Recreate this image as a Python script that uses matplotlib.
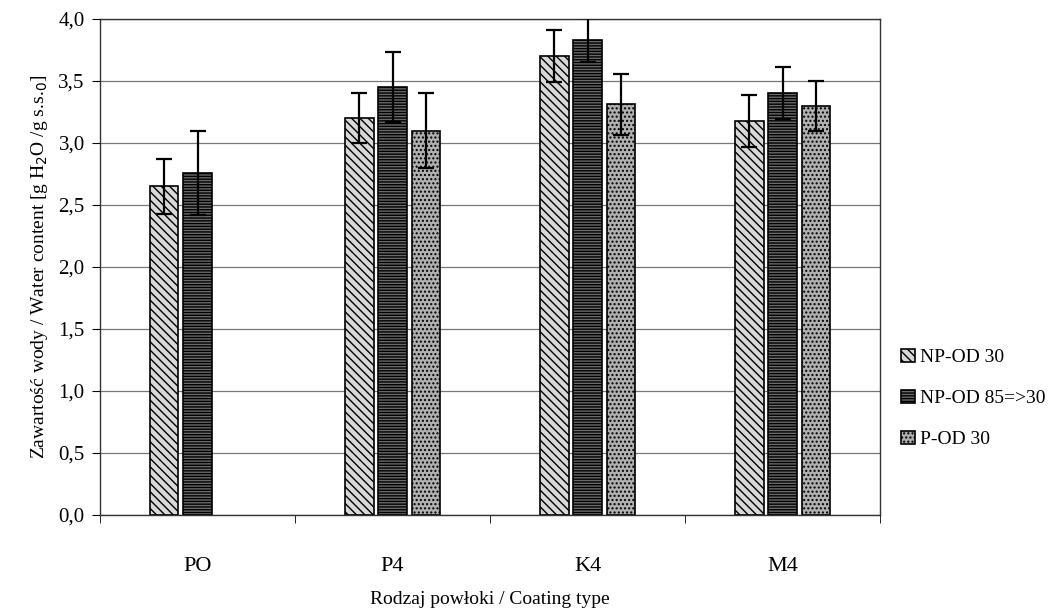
import numpy as np
import matplotlib.pyplot as plt

plt.rcParams['font.family'] = ['Liberation Serif', 'DejaVu Serif']
plt.rcParams['hatch.linewidth'] = 1.0

categories = ['PO', 'P4', 'K4', 'M4']
series = ['NP-OD 30', 'NP-OD 85=>30', 'P-OD 30']
np_od30 = [2.65, 3.20, 3.70, 3.18]
np_od30_err = [0.22, 0.20, 0.21, 0.21]
np_od85 = [2.76, 3.45, 3.83, 3.40]
np_od85_err = [0.34, 0.28, 0.18, 0.21]
p_od30 = [0.0, 3.10, 3.31, 3.30]
p_od30_err = [0.0, 0.30, 0.245, 0.20]

values = [np_od30, np_od85, p_od30]
errors = [np_od30_err, np_od85_err, p_od30_err]
faces = ['#d8d8d8', '#6a6a6a', '#b0b0b0']
hatches = ['\\\\\\\\', '------', '....']

fig = plt.figure(figsize=(10.57, 6.1), dpi=100)
ax = fig.add_axes([0.0946, 0.1557, 0.738, 0.8133])

x = np.arange(len(categories))
w = 0.145
step = 0.17
for i in range(3):
    pos = x + (i - 1) * step
    vals = np.array(values[i])
    errs = np.array(errors[i])
    mask = vals > 0
    ax.bar(pos[mask], vals[mask], w, color=faces[i], edgecolor='black',
           hatch=hatches[i], linewidth=1.2, label=series[i], zorder=2)
    ax.errorbar(pos[mask], vals[mask], yerr=errs[mask], fmt='none',
                ecolor='black', elinewidth=1.6, capsize=6, capthick=1.6, zorder=3)

ax.set_ylim(0, 4.0)
ax.set_xlim(-0.5, 3.5)
yt = np.arange(0, 4.01, 0.5)
ax.set_yticks(yt)
ax.set_yticklabels([('%.1f' % v).replace('.', ',') for v in yt], fontsize=15)
ax.set_xticks(x)
ax.set_xticklabels(categories, fontsize=16)
ax.set_xticks(np.arange(-0.5, 3.6, 1), minor=True)
ax.tick_params(axis='x', which='major', length=0, pad=30)
ax.tick_params(axis='x', which='minor', length=6, direction='out')
ax.tick_params(axis='y', length=6, direction='out', pad=5)
ax.grid(axis='y', color='#777777', linewidth=0.9, zorder=0)
ax.set_axisbelow(True)
for s in ax.spines.values():
    s.set_linewidth(1.0)
    s.set_color('#333333')

ax.set_ylabel('Zawartość wody / Water content [g H$_2$O /g s.s.$_0$]', fontsize=14,
              labelpad=6)
ax.set_xlabel('Rodzaj powłoki / Coating type', fontsize=14, labelpad=11)

ax.legend(loc='center left', bbox_to_anchor=(1.005, 0.235), frameon=False,
          fontsize=14, handlelength=0.7, handleheight=0.7, handletextpad=0.25,
          labelspacing=1.2)

fig.savefig('out.png', dpi=100)
